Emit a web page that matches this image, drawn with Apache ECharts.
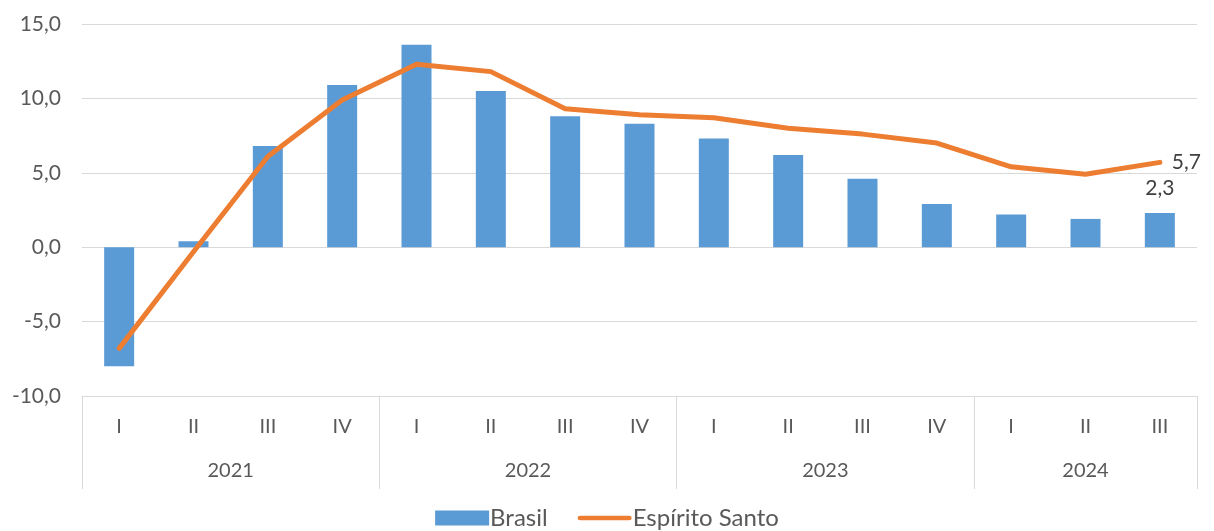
<!DOCTYPE html>
<html><head><meta charset="utf-8">
<script src="https://cdn.jsdelivr.net/npm/echarts@6/dist/echarts.min.js"></script>
<style>html,body{margin:0;padding:0;background:#fff}#c{width:1214px;height:531px}</style>
</head><body><div id="c"></div>
<script>
const quarters = ['I','II','III','IV','I','II','III','IV','I','II','III','IV','I','II','III'];
const years = ['2021','2022','2023','2024'];
const yearCenters = [2, 6, 10, 13.5];
const yearBounds = [0, 4, 8, 12, 15];
const brasil = [-8.0, 0.4, 6.8, 10.9, 13.6, 10.5, 8.8, 8.3, 7.3, 6.2, 4.6, 2.9, 2.2, 1.9, 2.3];
const espiritoSanto = [-6.8, -0.3, 6.1, 9.9, 12.3, 11.8, 9.3, 8.9, 8.7, 8.0, 7.6, 7.0, 5.4, 4.9, 5.7];

const FONT = 'Lato';
const TXT = '#595959';
const last = brasil.length - 1;
const fmt = v => v.toFixed(1).replace('.', ',');
const chart = echarts.init(document.getElementById('c'));
chart.setOption({
  animation: false,
  textStyle: {fontFamily: FONT},
  grid: {left: 82, right: 17, top: 24, bottom: 135},
  legend: {
    bottom: -4, left: 'center', itemGap: 30, itemWidth: 54, itemHeight: 15,
    textStyle: {fontFamily: FONT, fontSize: 24, color: TXT, padding: [0,0,0,-4]},
    data: [{name: 'Brasil', icon: 'rect'}, {name: 'Espírito Santo', icon: 'path://M2,0H55A2,2 0 0 1 55,5H2A2,2 0 0 1 2,0Z'}]
  },
  xAxis: [{
    type: 'category', data: quarters, position: 'bottom',
    axisLine: {onZero: false, lineStyle: {color: '#d9d9d9', width: 1}},
    axisTick: {show: false},
    axisLabel: {color: TXT, fontSize: 20, fontFamily: FONT, margin: 21}
  }, {
    type: 'value', min: 0, max: 15, position: 'bottom',
    axisLine: {show: false, onZero: false}, splitLine: {show: false},
    axisTick: {show: true, customValues: yearBounds, length: 93, lineStyle: {color: '#d9d9d9'}},
    axisLabel: {customValues: yearCenters, color: TXT, fontSize: 20, fontFamily: FONT, margin: 65,
      formatter: v => years[yearCenters.indexOf(v)] || ''}
  }],
  yAxis: {
    type: 'value', min: -10, max: 15, interval: 5,
    axisLine: {show: false}, axisTick: {show: false},
    splitLine: {lineStyle: {color: '#d9d9d9', width: 1}},
    axisLabel: {color: TXT, fontSize: 21, fontFamily: FONT, margin: 21, formatter: fmt}
  },
  series: [{
    name: 'Brasil', type: 'bar', barWidth: 30, xAxisIndex: 0,
    itemStyle: {color: '#5B9BD5'},
    data: brasil.map((v, i) => i === last ? {value: v, label: {show: true, position: 'top', distance: 14, color: '#404040', fontSize: 21, fontFamily: FONT, formatter: p => fmt(p.value)}} : v)
  }, {
    name: 'Espírito Santo', type: 'line', xAxisIndex: 0,
    symbol: 'circle', symbolSize: 0, showSymbol: true,
    lineStyle: {color: '#ED7D31', width: 5, cap: 'round', join: 'round'}, itemStyle: {color: '#ED7D31'},
    data: espiritoSanto.map((v, i) => i === last ? {value: v, label: {show: true, position: 'right', distance: 12, color: '#404040', fontSize: 21, fontFamily: FONT, formatter: p => fmt(p.value)}} : v)
  }]
});
</script></body></html>
